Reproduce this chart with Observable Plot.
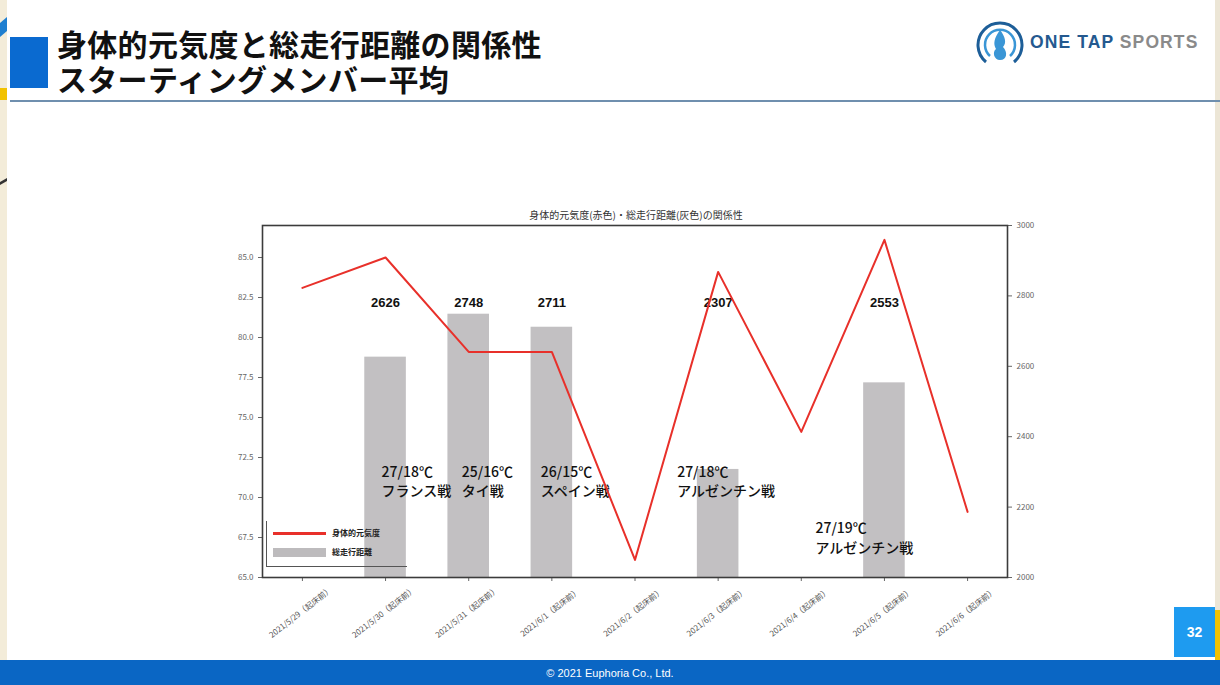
<!DOCTYPE html>
<html><head><meta charset="utf-8">
<script src="https://cdn.jsdelivr.net/npm/d3@7"></script>
<script src="https://cdn.jsdelivr.net/npm/@observablehq/plot@0.6"></script>
<style>
html,body{margin:0;padding:0;background:#fff;}
body{width:1220px;height:685px;position:relative;overflow:hidden;font-family:"Noto Sans CJK JP","Noto Sans",sans-serif;}
.abs{position:absolute;}
.title{left:57px;font-family:'Liberation Sans','Noto Sans CJK JP',sans-serif;font-size:30px;font-weight:700;line-height:30px;height:30px;color:#111;letter-spacing:0.3px;white-space:nowrap;}
#chartTitle{left:386px;top:207px;width:500px;text-align:center;font-size:10px;color:#333;}
#legend{left:266px;top:521px;width:140px;height:45px;border-left:1px solid #555;border-bottom:1px solid #555;font-size:8px;font-weight:700;color:#222;}
#legend .ln{position:absolute;left:6px;top:11px;width:53px;height:3px;background:#e8302a;}
#legend .bx{position:absolute;left:6px;top:27px;width:53px;height:9px;background:#bdbbbd;}
#legend .t1{position:absolute;left:65px;top:6px;}
#legend .t2{position:absolute;left:65px;top:25px;}
</style></head>
<body>
<div class="abs" style="left:0;top:0;width:7px;height:685px;background:#f3ecd9"></div>
<div class="abs" style="left:0;top:20px;width:7px;height:14px;background:#1f7fd0;transform:skewY(-40deg)"></div>
<div class="abs" style="left:0;top:88px;width:7px;height:12px;background:#f2c200;"></div>
<div class="abs" style="left:0;top:180px;width:7px;height:3px;background:#333;transform:skewY(-30deg)"></div>
<div class="abs" style="left:1215px;top:0;width:5px;height:685px;background:#ece6d6"></div>
<div class="abs" style="left:1215px;top:610px;width:5px;height:75px;background:#f2c200"></div>
<div class="abs" style="left:10px;top:37px;width:38px;height:51px;background:#0a6ad0"></div>
<div class="abs title" style="top:31px">身体的元気度と総走行距離の関係性</div>
<div class="abs title" style="top:66px">スターティングメンバー平均</div>
<div class="abs" style="left:10px;top:100px;width:1210px;height:2px;background:#6f8fae"></div>
<svg class="abs" style="left:972px;top:16px" width="56" height="54" viewBox="0 0 56 54">
  <path d="M14 46 A22 22 0 1 1 42 46" fill="none" stroke="#1d5e98" stroke-width="3"/>
  <path d="M18 40 A15 15 0 1 1 38 40" fill="none" stroke="#3a96d6" stroke-width="2.5"/>
  <path d="M28 14 C22 22 21 28 24 33 C20 36 22 44 28 44 C35 44 36 36 31 31 C35 27 33 20 28 14 Z" fill="#3a96d6"/>
</svg>
<div class="abs" style="left:1030px;top:32px;font-family:'Liberation Sans',Arial,sans-serif;font-weight:700;font-size:17.5px;letter-spacing:1.1px;"><span style="color:#24598f">ONE TAP</span> <span style="color:#8a8a8a">SPORTS</span></div>
<div class="abs" id="chartTitle">身体的元気度(赤色)・総走行距離(灰色)の関係性</div>
<div class="abs" id="plots" style="left:200px;top:200px;width:880px;height:460px;"></div>
<div class="abs" id="legend"><div class="ln"></div><div class="t1">身体的元気度</div><div class="bx"></div><div class="t2">総走行距離</div></div>
<div class="abs" style="left:1174px;top:607px;width:41px;height:50px;background:#1e9bf0;color:#fff;font-family:'Liberation Sans',Arial,sans-serif;font-weight:700;font-size:14px;display:flex;align-items:center;justify-content:center;">32</div>
<div class="abs" style="left:0;top:660px;width:1220px;height:25px;background:#0a66c4;color:#fff;font-family:'Liberation Sans',Arial,sans-serif;font-size:11px;display:flex;align-items:center;justify-content:center;">© 2021 Euphoria Co., Ltd.</div>
<script>
// ---- data ----
const dates = ["2021/5/29","2021/5/30","2021/5/31","2021/6/1","2021/6/2","2021/6/3","2021/6/4","2021/6/5","2021/6/6"];
const timing = "（起床前）";
const condition = [83.1, 85.0, 79.1, 79.1, 66.1, 84.1, 74.1, 86.1, 69.1];
const distance = [null, 2626, 2748, 2711, null, 2307, null, 2553, null];
const leftTicks = [65, 67.5, 70, 72.5, 75, 77.5, 80, 82.5, 85];
const rightTicks = [2000, 2200, 2400, 2600, 2800, 3000];
const annDates = ["2021/5/30","2021/5/31","2021/6/1","2021/6/3","2021/6/5"];
const annTemps = ["27/18℃","25/16℃","26/15℃","27/18℃","27/19℃"];
const annMatches = ["フランス戦","タイ戦","スペイン戦","アルゼンチン戦","アルゼンチン戦"];

// ---- layout ----
const labels = dates.map(d => d + timing);
const rows = dates.map((d, i) => ({label: labels[i], cond: condition[i], dist: distance[i]}));
const bars = rows.filter(r => r.dist != null);
const annDx = [-4, -7, -11, -41, -69];
const annY = [2276, 2276, 2276, 2276, 2116];
const valueLabelY = 2781;

const dims = {width: 880, height: 460, marginLeft: 62, marginRight: 73, marginTop: 25, marginBottom: 83};
const xScale = {type: "band", domain: labels, paddingInner: 0.5, paddingOuter: 0.23, round: false, label: null};
const baseStyle = {fontFamily: "'Noto Sans CJK JP','Liberation Sans',sans-serif", fontSize: "8px", color: "#666", background: "transparent", overflow: "visible"};

const annMarks = annDates.map((d, i) => Plot.text([{label: d + timing, y: annY[i], t: annTemps[i] + "\n" + annMatches[i]}], {
  x: "label", y: "y", text: "t", textAnchor: "start", dx: annDx[i], lineHeight: 1.38,
  fontSize: 14, fontWeight: 500, fill: "#111", fontFamily: "'Noto Sans CJK JP',sans-serif"
}));

const p1 = Plot.plot({
  ...dims,
  style: baseStyle,
  x: {...xScale, tickSize: 4, tickFormat: () => ""},
  y: {domain: [2000, 3000], axis: "right", ticks: rightTicks, tickFormat: d => String(d), label: null, tickSize: 4},
  marks: [
    Plot.barY(bars, {x: "label", y1: 2000, y2: "dist", fill: "#c2c0c2"}),
    Plot.text(labels, {x: d => d, frameAnchor: "bottom", dy: 37, rotate: -38, textAnchor: "middle", fontSize: 8, fill: "#555"}),
    Plot.text(bars, {x: "label", y: () => valueLabelY, text: d => String(d.dist), fontSize: 13, fontWeight: 700, fill: "#111", fontFamily: "'Liberation Sans',Arial,sans-serif"}),
    ...annMarks
  ]
});
const p2 = Plot.plot({
  ...dims,
  style: baseStyle,
  x: {...xScale, axis: null},
  y: {domain: [65, 87], axis: "left", ticks: leftTicks, tickFormat: d => d.toFixed(1), label: null, tickSize: 4},
  marks: [
    Plot.line(rows, {x: "label", y: "cond", stroke: "#e8302a", strokeWidth: 2}),
    Plot.frame({stroke: "#3c3c3c", strokeWidth: 1.6})
  ]
});
for (const p of [p1, p2]) {
  p.style.position = "absolute"; p.style.left = "0"; p.style.top = "0"; p.style.maxWidth = "none";
  document.getElementById("plots").appendChild(p);
}
</script>
</body></html>
